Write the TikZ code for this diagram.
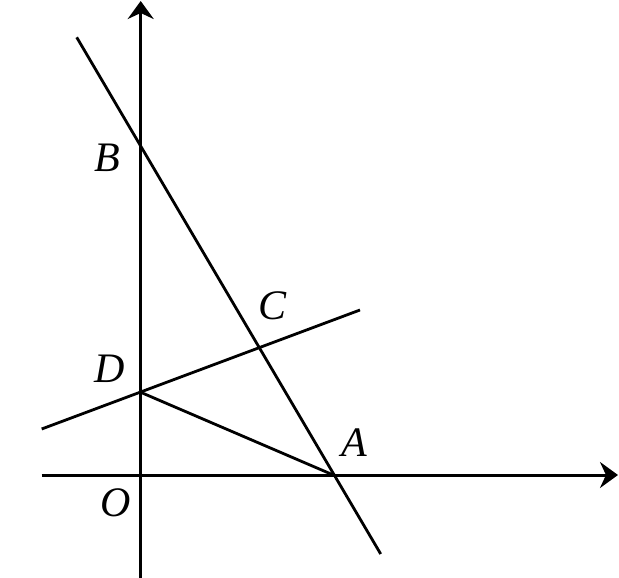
\documentclass[tikz,border=0pt]{standalone}
\usepackage{fontspec}
\setmainfont{Liberation Serif}
\usetikzlibrary{arrows.meta}
\begin{document}
\begin{tikzpicture}[x=1pt,y=-1pt,
  axis/.style={line width=3pt,-{Stealth[length=18pt,width=26pt,inset=6pt]}},
  geo/.style={line width=2.8pt},
  lab/.style={font=\fontsize{42}{42}\selectfont\itshape,inner sep=0pt}]
\useasboundingbox (0,0) rectangle (619,578);
\coordinate (O) at (140.7,475);
\coordinate (A) at (333.3,475);
\coordinate (B) at (140.7,146);
\coordinate (D) at (140.7,392.3);
\coordinate (C) at (259.3,347.7);
\coordinate (xl) at (41.7,475);
\coordinate (xr) at (618,475);
\coordinate (yb) at (140.7,578);
\coordinate (yt) at (140.7,1);
\coordinate (ABt) at (76.7,37.3);
\coordinate (ABb) at (380.7,554);
\coordinate (DCl) at (41.7,429);
\coordinate (DCr) at (360,310);
\draw[axis] (xl) -- (xr);
\draw[axis] (yb) -- (yt);
\draw[geo] (ABt) -- (ABb);
\draw[geo] (DCl) -- (DCr);
\draw[geo] (D) -- (A);
\node[lab] (lB) at (107,158) {B};
\node[lab] (lC) at (273,306) {C};
\node[lab] (lD) at (110,369) {D};
\node[lab] (lA) at (354,443) {A};
\node[lab] (lO) at (116,503) {O};
\end{tikzpicture}
\end{document}
